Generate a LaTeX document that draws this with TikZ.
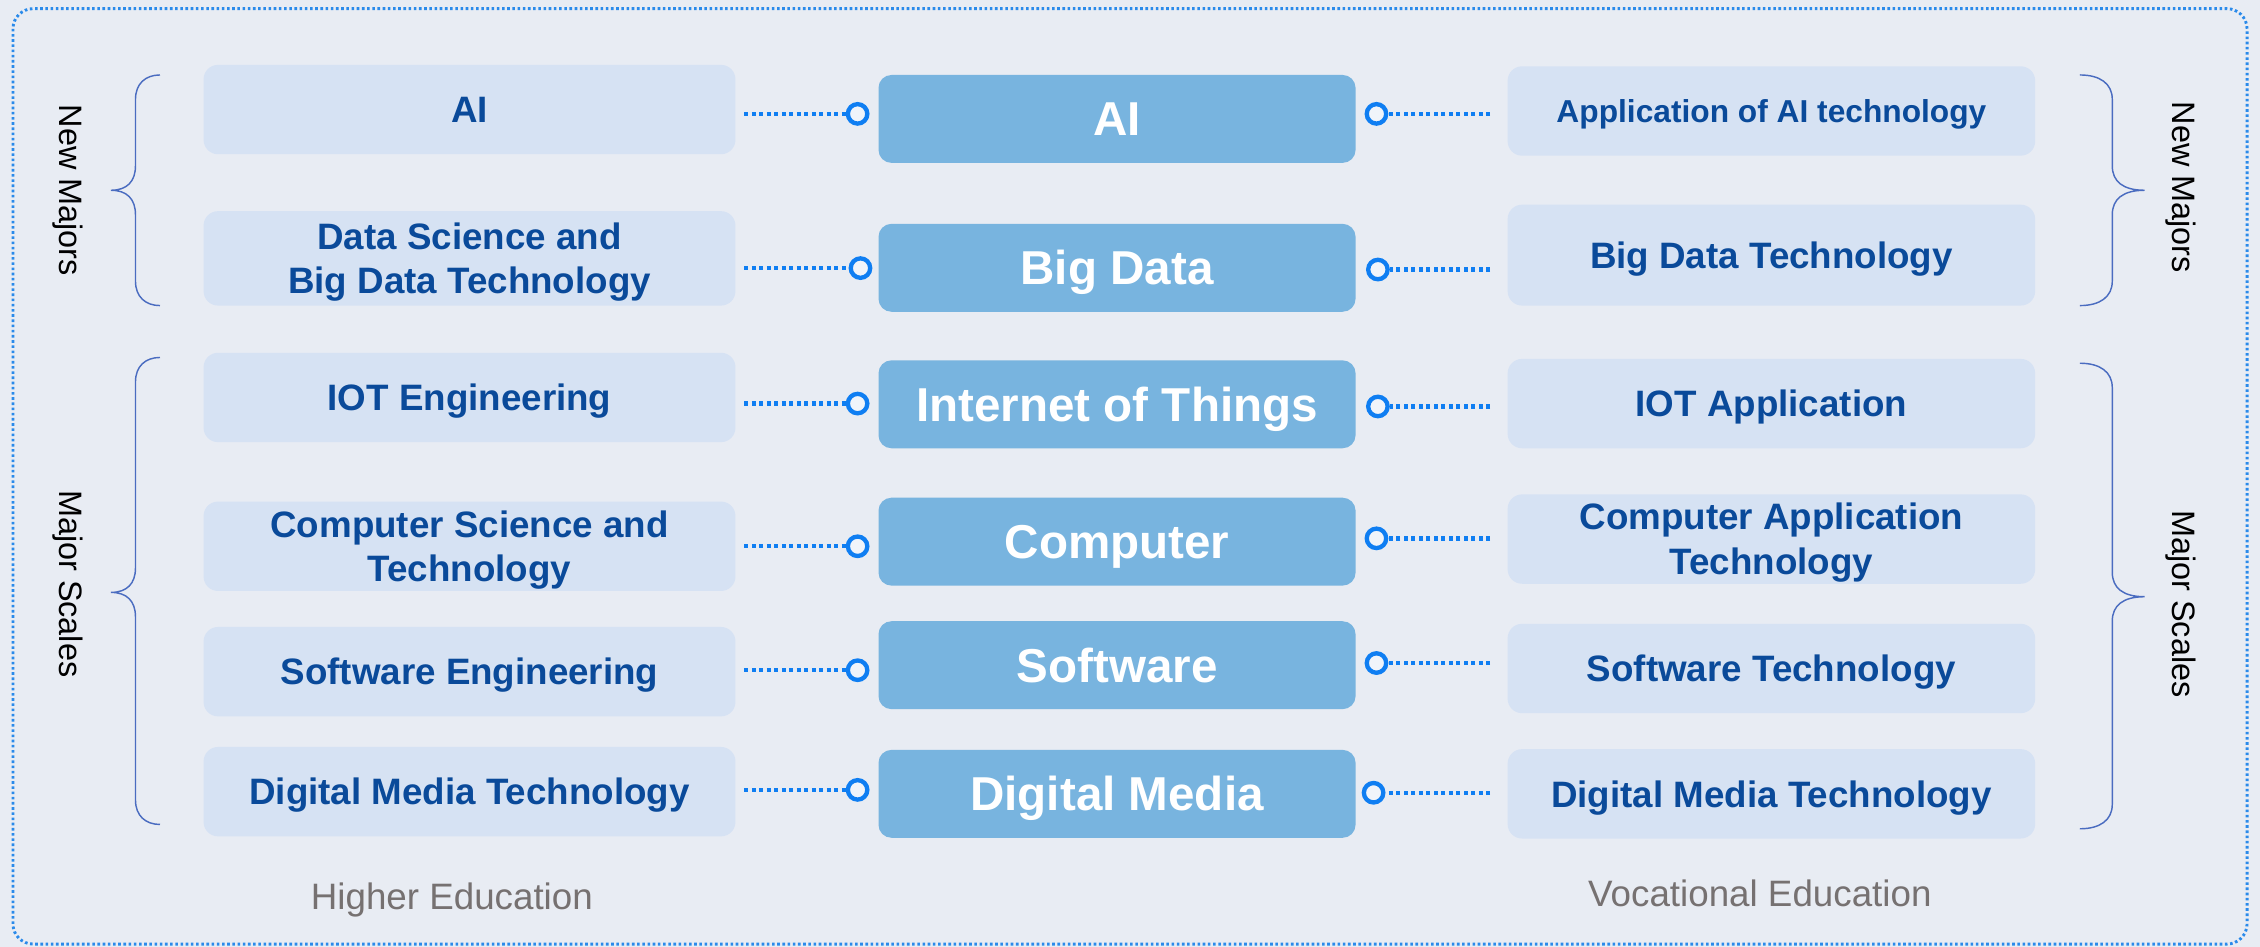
\documentclass[tikz,border=0pt]{standalone}
\usepackage{fontspec}
\setmainfont{Liberation Sans}
\definecolor{pagebg}{HTML}{E8ECF3}
\definecolor{sidefill}{HTML}{D6E2F3}
\definecolor{corefill}{HTML}{78B4DF}
\definecolor{majortext}{HTML}{0A4A9A}
\definecolor{linkblue}{HTML}{0F7EF2}
\definecolor{jointfill}{HTML}{F0F4FA}
\definecolor{braceblue}{HTML}{4A6CC0}
\definecolor{edugray}{HTML}{767171}
\definecolor{framedot}{HTML}{2A8AEA}
\begin{document}
\begin{tikzpicture}[x=1pt,y=-1pt,
  major/.style={rounded corners=10pt,fill=sidefill,minimum width=369pt,minimum height=62pt,inner sep=0pt,
    text=majortext,font=\bfseries\fontsize{25.5}{31}\selectfont,align=center,text height=18.3pt,text depth=0pt},
  twoline/.style={text height=49.3pt},
  field/.style={rounded corners=9pt,fill=corefill,minimum width=331pt,minimum height=61pt,inner sep=0pt,
    text=white,font=\bfseries\fontsize{33}{40}\selectfont,text height=23.6pt,text depth=0pt},
  joint/.style={circle,draw=linkblue,line width=3pt,fill=jointfill,minimum size=13.5pt,inner sep=0pt},
  link/.style={draw=linkblue,line width=3pt,dash pattern=on 2.6pt off 2.6pt},
  brace/.style={draw=braceblue,line width=1pt},
  side/.style={rotate=-90,font=\fontsize{22.5}{27}\selectfont,text height=16.1pt,text depth=0pt},
  edu/.style={text=edugray,font=\fontsize{25.5}{31}\selectfont,text height=18.3pt,text depth=0pt}]
\useasboundingbox (0,0) rectangle (1568,657);
\fill[pagebg] (0,0) rectangle (1568,657);
\draw[framedot,line width=2pt,dash pattern=on 1.8pt off 1.8pt,rounded corners=14pt] (9,6) rectangle (1559,655);
% higher education
\node[major] (l1) at (325.75,76) {AI};
\node[major,twoline,minimum height=65.5pt] (l2) at (325.75,179.25) {Data Science and\\Big Data Technology};
\node[major] (l3) at (325.75,275.75) {IOT Engineering};
\node[major,twoline] (l4) at (325.75,379) {Computer Science and\\Technology};
\node[major] (l5) at (325.75,466) {Software Engineering};
\node[major] (l6) at (325.75,549.25) {Digital Media Technology};
% fields
\node[field] (c1) at (775,82.5) {AI};
\node[field] (c2) at (775,185.8) {Big Data};
\node[field] (c3) at (775,280.5) {Internet of Things};
\node[field] (c4) at (775,375.8) {Computer};
\node[field] (c5) at (775,461.5) {Software};
\node[field] (c6) at (775,550.75) {Digital Media};
% vocational education
\node[major,minimum width=366pt,font=\bfseries\fontsize{22}{27}\selectfont,text height=15.8pt] (r1) at (1229,77) {Application of AI technology};
\node[major,minimum width=366pt,minimum height=70pt] (r2) at (1229,177) {Big Data Technology};
\node[major,minimum width=366pt] (r3) at (1229,280) {IOT Application};
\node[major,minimum width=366pt,twoline] (r4) at (1229,374) {Computer Application\\Technology};
\node[major,minimum width=366pt] (r5) at (1229,463.8) {Software Technology};
\node[major,minimum width=366pt] (r6) at (1229,550.75) {Digital Media Technology};
% joints
\node[joint] (jl1) at (595,79) {};
\node[joint] (jl2) at (597,186) {};
\node[joint] (jl3) at (595,280) {};
\node[joint] (jl4) at (595,379) {};
\node[joint] (jl5) at (595,465) {};
\node[joint] (jl6) at (595,548) {};
\node[joint] (jr1) at (955,79) {};
\node[joint] (jr2) at (956,187) {};
\node[joint] (jr3) at (956,282) {};
\node[joint] (jr4) at (955,373.5) {};
\node[joint] (jr5) at (955,460) {};
\node[joint] (jr6) at (953,550) {};
\draw[link] (l1.east |- jl1) ++(6,0) -- (jl1.west);
\draw[link] (l2.east |- jl2) ++(6,0) -- (jl2.west);
\draw[link] (l3.east |- jl3) ++(6,0) -- (jl3.west);
\draw[link] (l4.east |- jl4) ++(6,0) -- (jl4.west);
\draw[link] (l5.east |- jl5) ++(6,0) -- (jl5.west);
\draw[link] (l6.east |- jl6) ++(6,0) -- (jl6.west);
\draw[link] (r1.west |- jr1) ++(-12,0) -- (jr1.east);
\draw[link] (r2.west |- jr2) ++(-12,0) -- (jr2.east);
\draw[link] (r3.west |- jr3) ++(-12,0) -- (jr3.east);
\draw[link] (r4.west |- jr4) ++(-12,0) -- (jr4.east);
\draw[link] (r5.west |- jr5) ++(-12,0) -- (jr5.east);
\draw[link] (r6.west |- jr6) ++(-12,0) -- (jr6.east);
% braces
\draw[brace] (111,52) .. controls (101,52) and (94,58) .. (94,69) -- (94,115) .. controls (94,126) and (88,132) .. (77,132)
  .. controls (88,132) and (94,138) .. (94,149) -- (94,195) .. controls (94,206) and (101,212) .. (111,212);
\draw[brace] (111,248) .. controls (101,248) and (94,254) .. (94,265) -- (94,394) .. controls (94,405) and (88,411) .. (77,411)
  .. controls (88,411) and (94,417) .. (94,428) -- (94,555) .. controls (94,566) and (101,572) .. (111,572);
\draw[brace] (1443,52) .. controls (1457,52) and (1465.5,58) .. (1465.5,69) -- (1465.5,115) .. controls (1465.5,126) and (1473,132) .. (1488,132)
  .. controls (1473,132) and (1465.5,138) .. (1465.5,149) -- (1465.5,195) .. controls (1465.5,206) and (1457,212) .. (1443,212);
\draw[brace] (1443,252) .. controls (1457,252) and (1465.5,258) .. (1465.5,269) -- (1465.5,397) .. controls (1465.5,408) and (1473,414) .. (1488,414)
  .. controls (1473,414) and (1465.5,420) .. (1465.5,431) -- (1465.5,558) .. controls (1465.5,569) and (1457,575) .. (1443,575);
\node[side] (nml) at (49,132) {New Majors};
\node[side] (msl) at (49.5,405) {Major Scales};
\node[side] (nmr) at (1515,130) {New Majors};
\node[side] (msr) at (1515,419) {Major Scales};
\node[edu] (he) at (313.5,622) {Higher Education};
\node[edu] (ve) at (1221,620) {Vocational Education};
\end{tikzpicture}
\end{document}
